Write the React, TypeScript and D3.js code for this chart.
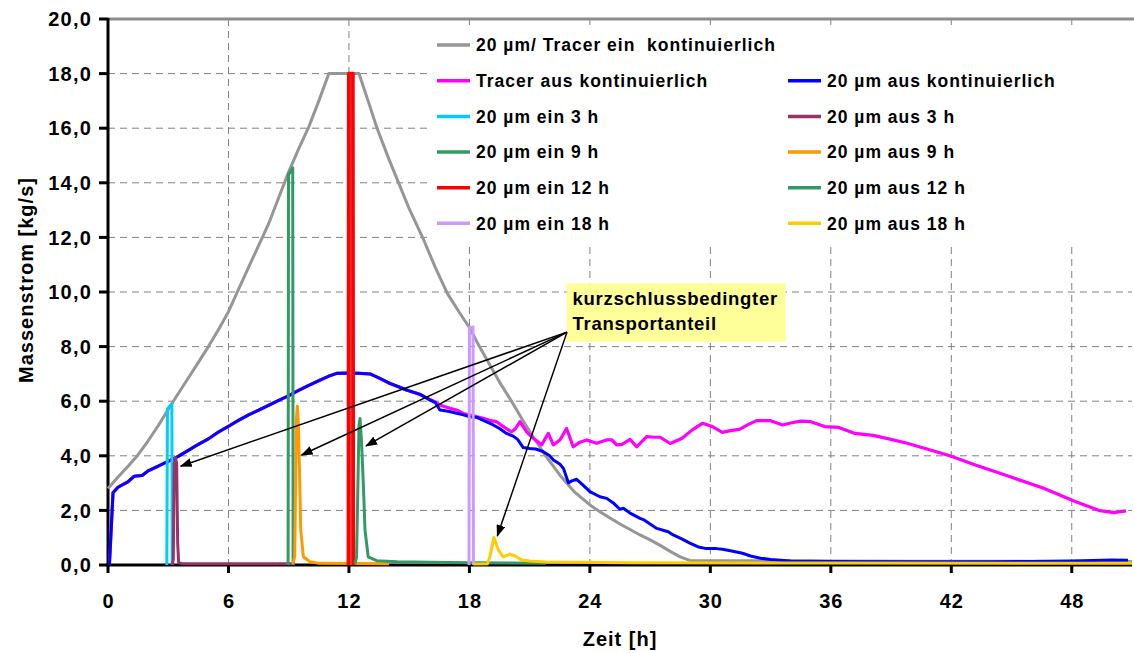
import React from 'react';
import * as d3 from 'd3';

// ---------- data ----------
const xTicks = [0, 6, 12, 18, 24, 30, 36, 42, 48];
const yTicks = [0, 2, 4, 6, 8, 10, 12, 14, 16, 18, 20];
const xTitle = 'Zeit [h]';
const yTitle = 'Massenstrom [kg/s]';

type P = [number, number];

const grayIn: P[] = [
  [0, 2.8], [0.5, 3.22], [1, 3.62], [1.5, 4.04], [2, 4.55], [2.5, 5.1], [3, 5.7], [3.5, 6.28],
  [4, 6.85], [4.5, 7.42], [5, 8.0], [5.5, 8.62], [6, 9.28], [6.5, 10.1], [7, 10.9], [7.5, 11.7],
  [8, 12.5], [8.5, 13.45], [9, 14.4], [9.5, 15.25], [10, 16.05], [10.5, 17.0], [11, 18],
  [12.5, 18], [13, 16.9], [13.4, 16.0], [14, 14.85], [14.5, 13.95], [15, 13.05], [15.7, 11.95],
  [16.3, 10.9], [16.9, 9.95], [17.5, 9.25], [18, 8.7], [18.5, 8.0], [19, 7.35], [19.5, 6.7],
  [20.1, 6.0], [20.7, 5.25], [21.3, 4.55], [21.8, 4.0], [22.5, 3.3], [23.2, 2.7], [24, 2.2],
  [24.5, 1.95], [25, 1.72], [25.5, 1.5], [26, 1.3], [26.5, 1.1], [27, 0.92], [27.5, 0.72],
  [28, 0.5], [28.5, 0.3], [29, 0.16], [40, 0.14], [51, 0.13],
];

const blueOut: P[] = [
  [0.07, 0], [0.25, 2.65], [0.5, 2.85], [1, 3.05], [1.3, 3.25], [1.7, 3.28], [2, 3.45], [2.5, 3.62],
  [3, 3.8], [3.5, 3.98], [4, 4.2], [4.5, 4.42], [5, 4.62], [5.5, 4.87], [6, 5.08], [6.5, 5.3],
  [7, 5.5], [7.5, 5.67], [8, 5.85], [8.5, 6.03], [9, 6.2], [9.5, 6.4], [10, 6.58], [10.5, 6.75],
  [11, 6.92], [11.4, 7.02], [12, 7.03], [12.5, 7.02], [13.05, 7.0], [13.5, 6.85], [14.04, 6.65],
  [14.5, 6.52], [14.87, 6.41], [15.2, 6.33], [15.54, 6.25], [16.04, 6.04], [16.3, 5.95],
  [16.53, 5.68], [16.78, 5.65], [17.0, 5.62], [17.36, 5.56], [17.7, 5.5], [18.03, 5.43],
  [18.4, 5.4], [18.69, 5.3], [19.19, 5.13], [19.5, 5.0], [19.85, 4.82], [20.18, 4.72], [20.4, 4.6],
  [20.68, 4.3], [21.0, 4.27], [21.3, 4.25], [21.68, 4.15], [22.0, 4.0], [22.18, 3.85], [22.5, 3.7],
  [22.68, 3.54], [22.93, 3.01], [23.1, 3.08], [23.34, 3.14], [23.7, 2.9], [24.0, 2.69], [24.5, 2.5],
  [24.84, 2.44], [25.2, 2.25], [25.5, 2.04], [25.67, 2.08], [26.0, 1.9], [26.5, 1.71], [26.7, 1.65],
  [27.0, 1.5], [27.33, 1.34], [27.9, 1.22], [28.15, 1.1], [28.6, 0.95], [28.98, 0.8], [29.4, 0.66],
  [29.8, 0.6], [30.3, 0.6], [30.6, 0.58], [31.0, 0.52], [31.6, 0.43], [32.0, 0.33], [32.5, 0.25],
  [33.0, 0.2], [34.0, 0.15], [36, 0.13], [40, 0.12], [44, 0.12], [46, 0.13], [48, 0.15],
  [50, 0.18], [50.8, 0.17],
];

const magentaOut: P[] = [
  [0.07, 0], [0.25, 2.65], [0.5, 2.85], [1, 3.05], [1.3, 3.25], [1.7, 3.28], [2, 3.45], [2.5, 3.62],
  [3, 3.8], [3.5, 3.98], [4, 4.2], [4.5, 4.42], [5, 4.62], [5.5, 4.87], [6, 5.08], [6.5, 5.3],
  [7, 5.5], [7.5, 5.67], [8, 5.85], [8.5, 6.03], [9, 6.2], [9.5, 6.4], [10, 6.58], [10.5, 6.75],
  [11, 6.92], [11.4, 7.02], [12, 7.03], [12.5, 7.02], [13.05, 7.0], [13.5, 6.85], [14.04, 6.65],
  [14.5, 6.52], [14.87, 6.41], [15.2, 6.33], [15.54, 6.25], [16.04, 6.06], [16.3, 5.97],
  [16.53, 5.86], [16.78, 5.8], [17.03, 5.74], [17.36, 5.68], [17.7, 5.55], [18.03, 5.49],
  [18.69, 5.37], [19.0, 5.3], [19.35, 5.25], [19.69, 5.07], [20.1, 4.88], [20.3, 5.0],
  [20.52, 5.25], [20.85, 4.88], [21.18, 4.64], [21.6, 4.4], [21.93, 4.82], [22.18, 4.4],
  [22.51, 4.58], [22.84, 5.0], [23.17, 4.33], [23.5, 4.5], [23.84, 4.58], [24.33, 4.46],
  [24.83, 4.58], [25.1, 4.58], [25.33, 4.4], [25.6, 4.42], [26.0, 4.6], [26.33, 4.33],
  [26.83, 4.7], [27.2, 4.68], [27.5, 4.68], [28.0, 4.45], [28.6, 4.64], [29.1, 4.95],
  [29.6, 5.19], [30.1, 5.07], [30.6, 4.86], [31.0, 4.92], [31.45, 4.97], [31.9, 5.15],
  [32.3, 5.29], [32.97, 5.29], [33.6, 5.13], [34.0, 5.2], [34.5, 5.27], [35.0, 5.25],
  [35.7, 5.07], [36.4, 5.04], [37.2, 4.82], [38.1, 4.75], [39.0, 4.6], [39.8, 4.46],
  [41.0, 4.2], [41.96, 3.99], [43.2, 3.66], [44.9, 3.24], [46.6, 2.81], [48.2, 2.32],
  [49.4, 1.99], [50.1, 1.92], [50.7, 1.98],
];

const cyanIn3: P[] = [[2.93, 0], [2.96, 5.72], [3.18, 5.9], [3.2, 0]];
const maroonOut3: P[] = [
  [3.2, 0], [3.25, 0.2], [3.3, 3.7], [3.36, 3.94], [3.42, 3.7], [3.47, 0.8], [3.52, 0.08],
  [3.7, 0.05], [9.3, 0.05],
];
const greenIn9: P[] = [[8.97, 0], [8.99, 14.3], [9.2, 14.55], [9.22, 0]];
const orangeOut9: P[] = [
  [9.2, 0.03], [9.3, 0.3], [9.38, 5.3], [9.43, 5.82], [9.48, 5.2], [9.53, 3.72], [9.6, 1.28],
  [9.73, 0.3], [10.06, 0.12], [10.5, 0.06], [14, 0.05],
];
const redIn12: P[] = [[11.97, 0], [11.99, 18], [12.2, 18], [12.22, 0]];
const greenOut12: P[] = [
  [12.3, 0.03], [12.38, 0.3], [12.5, 5.1], [12.55, 5.37], [12.62, 4.6], [12.71, 3.1], [12.8, 1.28],
  [12.96, 0.3], [13.38, 0.16], [14.4, 0.12], [16, 0.1], [18, 0.08], [20, 0.07], [21.8, 0.06],
];
const purpleIn18: P[] = [[17.98, 0], [18.0, 8.7], [18.18, 8.72], [18.2, 0]];
const yellowOut18: P[] = [
  [18.2, 0.04], [18.9, 0.05], [19.02, 0.3], [19.22, 1.01], [19.44, 0.55], [19.68, 0.3],
  [20.02, 0.4], [20.27, 0.33], [20.6, 0.18], [21.0, 0.15], [21.85, 0.11], [26, 0.08],
  [36, 0.07], [51, 0.06],
];

const legendLabels = [
  '20 µm/ Tracer ein  kontinuierlich',
  'Tracer aus kontinuierlich', '20 µm aus kontinuierlich',
  '20 µm ein 3 h', '20 µm aus 3 h',
  '20 µm ein 9 h', '20 µm aus 9 h',
  '20 µm ein 12 h', '20 µm aus 12 h',
  '20 µm ein 18 h', '20 µm aus 18 h',
];

const annotationLines = ['kurzschlussbedingter', 'Transportanteil'];
// annotation anchor and arrow targets in data units [h, kg/s]
const annotationAnchor: P = [22.86, 8.53];
const annotationBox: [P, P] = [[22.84, 10.32], [33.75, 8.18]];
const arrowTargets: P[] = [[3.62, 3.62], [9.64, 4.03], [12.85, 4.36], [19.39, 1.06]];

// ---------- styles ----------
const colors = {
  gray: '#969696', magenta: '#FF00FF', blue: '#0000FF', cyan: '#00CCFF', maroon: '#993366',
  green: '#339966', orange: '#FF9900', red: '#FF0000', purple: '#CC99FF', yellow: '#FFCC00',
};

const FONT = '"Liberation Sans", Arial, Helvetica, sans-serif';

export default function App() {
  const W = 1134, H = 653;
  const x = d3.scaleLinear().domain([0, 51]).range([108, 1132]);
  const y = d3.scaleLinear().domain([0, 20]).range([565, 19]);
  const line = d3.line<P>().x(d => x(d[0])).y(d => y(d[1]));
  const fmt = (v: number) => d3.format('.1f')(v).replace('.', ',');

  const series: { data: P[]; color: string; w: number; fill?: string }[] = [
    { data: grayIn, color: colors.gray, w: 3 },
    { data: magentaOut, color: colors.magenta, w: 3.2 },
    { data: blueOut, color: colors.blue, w: 3 },
    { data: cyanIn3, color: colors.cyan, w: 3 },
    { data: maroonOut3, color: colors.maroon, w: 3 },
    { data: greenIn9, color: colors.green, w: 3 },
    { data: orangeOut9, color: colors.orange, w: 3 },
    { data: redIn12, color: colors.red, w: 3.5, fill: '#FF4040' },
    { data: greenOut12, color: colors.green, w: 3 },
    { data: purpleIn18, color: colors.purple, w: 3 },
    { data: yellowOut18, color: colors.yellow, w: 3 },
  ];

  const legendColors = [
    colors.gray, colors.magenta, colors.blue, colors.cyan, colors.maroon, colors.green,
    colors.orange, colors.red, colors.green, colors.purple, colors.yellow,
  ];
  const rowY = [45, 80.7, 116.4, 152, 187.7, 223.3];
  const colX = [437, 788];
  const legendPos = legendLabels.map((_, i) => {
    if (i === 0) return { cx: colX[0], cy: rowY[0] };
    const r = Math.floor((i - 1) / 2) + 1;
    const c = (i - 1) % 2;
    return { cx: colX[c], cy: rowY[r] };
  });

  const x0 = x(0), x1 = x(51), yTop = y(20), yBot = y(0);
  const [b0, b1] = annotationBox;

  return (
    <svg width={W} height={H} style={{ position: 'absolute', left: 0, top: 0, background: '#fff' }}
      fontFamily={FONT} fontWeight="bold">
      <defs>
        <marker id="arrow" markerUnits="userSpaceOnUse" markerWidth={12} markerHeight={9}
          refX={11} refY={4.5} orient="auto">
          <path d="M0,0 L12,4.5 L0,9 z" fill="#000" />
        </marker>
      </defs>
      <rect x={0} y={0} width={W} height={H} fill="#fff" />

      {/* gridlines */}
      {yTicks.filter(t => t > 0 && t < 20).map(t => (
        <line key={'gy' + t} x1={x0} x2={x1} y1={y(t)} y2={y(t)} stroke="#808080"
          strokeWidth={1} strokeDasharray="7 5" />
      ))}
      {xTicks.filter(t => t > 0).map(t => (
        <line key={'gx' + t} x1={x(t)} x2={x(t)} y1={yTop} y2={yBot} stroke="#808080"
          strokeWidth={1} strokeDasharray="7 5" />
      ))}
      {/* top border */}
      <line x1={x0} x2={W} y1={yTop} y2={yTop} stroke="#8c8c8c" strokeWidth={3} />

      {/* axes */}
      <line x1={x0} x2={x0} y1={yTop - 1} y2={yBot + 1.5} stroke="#000" strokeWidth={3} />
      <line x1={x0 - 1.5} x2={x1} y1={yBot} y2={yBot} stroke="#000" strokeWidth={3} />
      {yTicks.map(t => (
        <g key={'yt' + t}>
          <line x1={x0 - 9} x2={x0} y1={y(t)} y2={y(t)} stroke="#000" strokeWidth={3} />
          <text x={92} y={y(t) + 7.2} textAnchor="end" fontSize={20} letterSpacing={1.2}
            fill="#000">{fmt(t)}</text>
        </g>
      ))}
      {xTicks.map(t => (
        <g key={'xt' + t}>
          <line x1={x(t)} x2={x(t)} y1={yBot} y2={yBot + 8} stroke="#000" strokeWidth={3} />
          <text x={x(t) + 0.5} y={607.5} textAnchor="middle" fontSize={20} letterSpacing={1}
            fill="#000">{t}</text>
        </g>
      ))}
      <text x={(x0 + x1) / 2} y={646} textAnchor="middle" fontSize={20} letterSpacing={1}
        fill="#000">{xTitle}</text>
      <text transform={`translate(33,280) rotate(-90)`} textAnchor="middle" fontSize={20}
        letterSpacing={1} fill="#000">{yTitle}</text>

      {/* series */}
      {series.map((s, i) => (
        <path key={'s' + i} d={line(s.data) ?? ''} fill={s.fill ?? 'none'} stroke={s.color}
          strokeWidth={s.w} strokeLinejoin="round" strokeLinecap="butt" />
      ))}

      {/* legend */}
      <rect x={432} y={25} width={W - 432 - 1} height={222} fill="#fff" />
      {legendLabels.map((lab, i) => (
        <g key={'lg' + i}>
          <line x1={legendPos[i].cx} x2={legendPos[i].cx + 33} y1={legendPos[i].cy}
            y2={legendPos[i].cy} stroke={legendColors[i]} strokeWidth={3.5} />
          <text x={legendPos[i].cx + 39} y={legendPos[i].cy + 6.3} fontSize={17.5}
            letterSpacing={1} fill="#000" style={{ whiteSpace: 'pre' }}>{lab}</text>
        </g>
      ))}

      {/* annotation */}
      <rect x={x(b0[0])} y={y(b0[1])} width={x(b1[0]) - x(b0[0])} height={y(b1[1]) - y(b0[1])}
        fill="#FFFF99" />
      {annotationLines.map((t, i) => (
        <text key={'an' + i} x={x(b0[0]) + 6} y={y(b0[1]) + 22 + i * 25} fontSize={18.5}
          letterSpacing={0.7} fill="#000">{t}</text>
      ))}
      {arrowTargets.map((tg, i) => (
        <line key={'ar' + i} x1={x(annotationAnchor[0])} y1={y(annotationAnchor[1])}
          x2={x(tg[0])} y2={y(tg[1])} stroke="#000" strokeWidth={1.5} markerEnd="url(#arrow)" />
      ))}
    </svg>
  );
}
